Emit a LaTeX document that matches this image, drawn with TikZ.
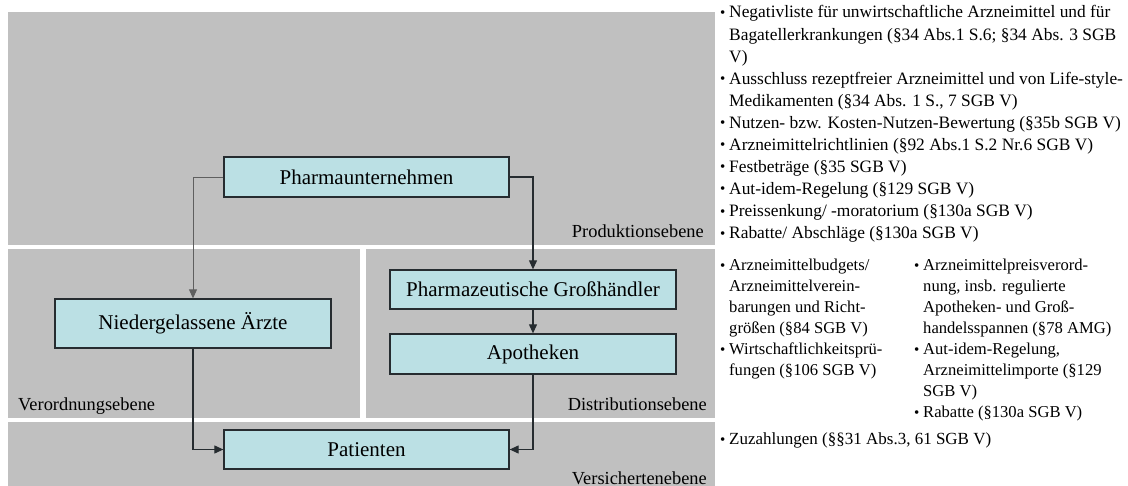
\documentclass[tikz,border=0pt]{standalone}
\usepackage{fontspec}
\setmainfont{Liberation Serif}
\usetikzlibrary{arrows.meta}

\definecolor{panelgray}{RGB}{192,192,192}
\definecolor{boxcyan}{RGB}{187,224,228}
\definecolor{edgedark}{RGB}{38,44,48}
\definecolor{flowlight}{RGB}{95,95,95}

% raised bullet for the rule lists
\newcommand{\rulebullet}{\raisebox{0.1ex}{\fontsize{15}{12}\selectfont\textbullet}}

\begin{document}
\begin{tikzpicture}[x=1pt,y=-1pt,
  actor/.style={draw=edgedark, line width=1.3pt, fill=boxcyan, minimum height=40pt,
                inner sep=0pt, font=\fontsize{21}{24}\selectfont},
  level/.style={font=\fontsize{18.4}{21}\selectfont, inner sep=0pt},
  flow/.style={draw=edgedark, line width=1.1pt, -{Triangle[length=9pt,width=8pt]}},
  rules/.style={font=\fontsize{17.4}{22.1}\selectfont, inner sep=0pt, anchor=base west},
  rulestight/.style={rules, font=\fontsize{16.6}{21}\selectfont}
]
\useasboundingbox (0,0) rectangle (1128,486);
\fill[white] (0,0) rectangle (1128,486);

% level panels
\fill[panelgray] (8,12) rectangle (715,245);
\fill[panelgray] (8,249) rectangle (360,418);
\fill[panelgray] (366,249) rectangle (715,418);
\fill[panelgray] (8,422) rectangle (715,486);

% actors
\node[actor, minimum width=285pt] (pharma) at (366.5,177) {Pharmaunternehmen};
\node[actor, minimum width=276pt, minimum height=49pt] (aerzte) at (193,323.5) {Niedergelassene Ärzte};
\node[actor, minimum width=286pt, minimum height=39pt] (gross) at (533,289.5) {Pharmazeutische Großhändler};
\node[actor, minimum width=286pt] (apo) at (533,354) {Apotheken};
\node[actor, minimum width=285pt, minimum height=39pt] (pat) at (366.5,449.5) {Patienten};

% flows of medicines
\draw[flow, draw=flowlight, line width=0.9pt] (pharma.west) -| (aerzte.north);
\draw[flow] (pharma.east) -| (gross.north);
\draw[flow] (gross.south) -- (apo.north);
\draw[flow] (aerzte.south) |- (pat.west);
\draw[flow] (apo.south) |- (pat.east);

% level names
\node[level, anchor=base east] (prodlabel) at (704,238) {Produktionsebene};
\node[level, anchor=base west] (verlabel) at (18,411) {Verordnungsebene};
\node[level, anchor=base east] (distlabel) at (707,411) {Distributionsebene};
\node[level, anchor=base east] (versichlabel) at (707,484) {Versichertenebene};

% regulations per level
\node[rules] (prodrules) at (720,18) {%
\begin{tabular}[t]{@{}p{9pt}@{}l@{}}
\rulebullet & Negativliste für unwirtschaftliche Arzneimittel und für\\
 & Bagatellerkrankungen (§34 Abs.1 S.6; §34 Abs. 3 SGB\\
 & V)\\
\rulebullet & Ausschluss rezeptfreier Arzneimittel und von Life-style-\\
 & Medikamenten (§34 Abs. 1 S., 7 SGB V)\\
\rulebullet & Nutzen- bzw. Kosten-Nutzen-Bewertung (§35b SGB V)\\
\rulebullet & Arzneimittelrichtlinien (§92 Abs.1 S.2 Nr.6 SGB V)\\
\rulebullet & Festbeträge (§35 SGB V)\\
\rulebullet & Aut-idem-Regelung (§129 SGB V)\\
\rulebullet & Preissenkung/ -moratorium (§130a SGB V)\\
\rulebullet & Rabatte/ Abschläge (§130a SGB V)
\end{tabular}};

\node[rulestight] (verrules) at (720,271) {%
\begin{tabular}[t]{@{}p{9pt}@{}l@{}}
\rulebullet & Arzneimittelbudgets/\\
 & Arzneimittelverein-\\
 & barungen und Richt-\\
 & größen (§84 SGB V)\\
\rulebullet & Wirtschaftlichkeitsprü-\\
 & fungen (§106 SGB V)
\end{tabular}};

\node[rulestight] (distrules) at (914,271) {%
\begin{tabular}[t]{@{}p{9pt}@{}l@{}}
\rulebullet & Arzneimittelpreisverord-\\
 & nung, insb. regulierte\\
 & Apotheken- und Groß-\\
 & handelsspannen (§78 AMG)\\
\rulebullet & Aut-idem-Regelung,\\
 & Arzneimittelimporte (§129\\
 & SGB V)\\
\rulebullet & Rabatte (§130a SGB V)
\end{tabular}};

\node[rules, font=\fontsize{17}{21}\selectfont] (versichrules) at (720,445) {%
\begin{tabular}[t]{@{}p{9pt}@{}l@{}}
\rulebullet & Zuzahlungen (§§31 Abs.3, 61 SGB V)
\end{tabular}};
\end{tikzpicture}
\end{document}
